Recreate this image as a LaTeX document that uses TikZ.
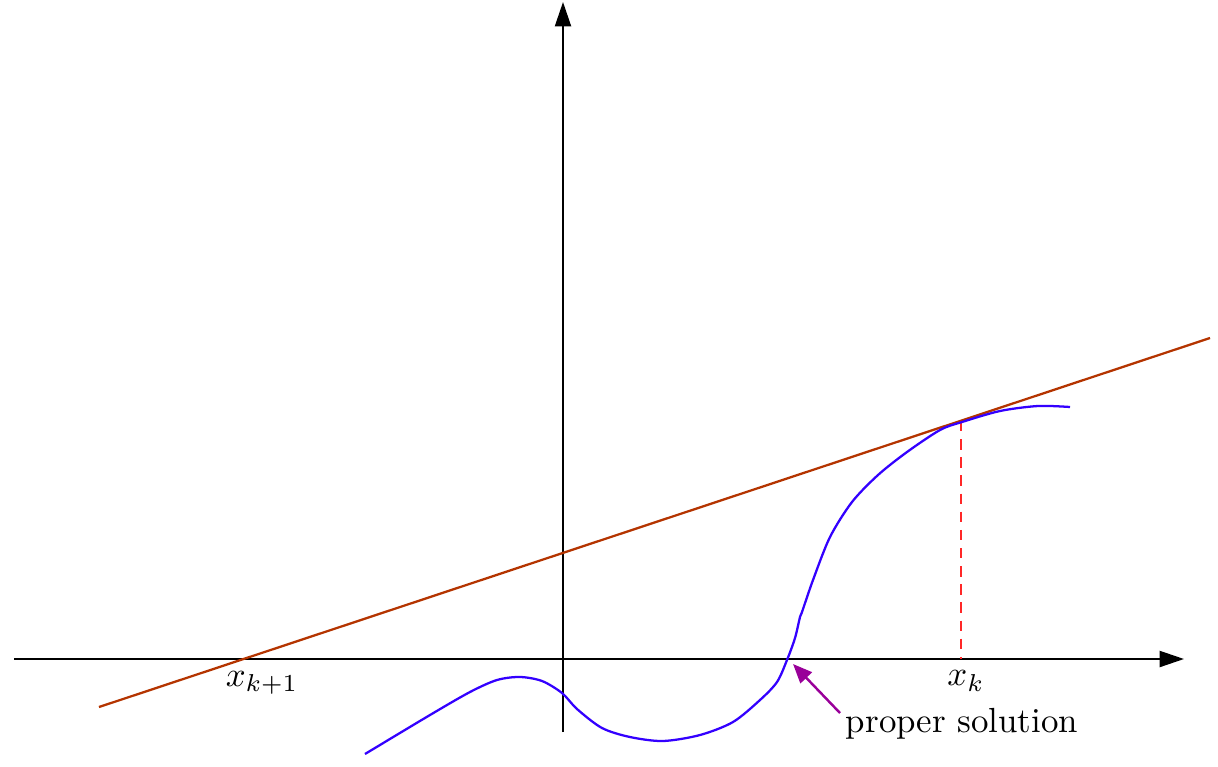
\documentclass[tikz,border=0pt]{standalone}
\usetikzlibrary{arrows.meta}
\definecolor{tangentc}{RGB}{180,52,0}
\definecolor{curvec}{RGB}{51,0,255}
\definecolor{dashc}{RGB}{255,40,40}
\definecolor{pointc}{RGB}{153,0,153}
\begin{document}
\begin{tikzpicture}[x=0.2866pt,y=-0.2866pt,
  axis/.style={line width=0.6pt,-{Triangle[length=7pt,width=4.6pt]}},
  tangent/.style={tangentc,line width=0.65pt},
  fcurve/.style={curvec,line width=0.65pt},
  guide/.style={dashc,line width=0.7pt,dash pattern=on 3pt off 2.2pt},
  pointer/.style={pointc,line width=0.7pt,-{Triangle[length=5.5pt,width=4.5pt]}},
  lbl/.style={inner sep=0pt}]
\useasboundingbox (0,0) rectangle (1218,766);
% axes
\coordinate (xa) at (14,659);
\coordinate (xb) at (1184,659);
\coordinate (ya) at (563,732);
\coordinate (yb) at (563,2);
\draw[axis] (xa) -- (xb);
\draw[axis] (ya) -- (yb);
% tangent line
\coordinate (ta) at (99,707);
\coordinate (tb) at (1210,338);
\draw[tangent] (ta) -- (tb);
% dashed guide
\coordinate (ga) at (961,421);
\coordinate (gb) at (961,659);
\draw[guide] (ga) -- (gb);
% curve
\draw[fcurve] plot[smooth,tension=0.5] coordinates {
 (365,754) (430,715) (470,692) (497,680) (520,677) (542,681) (562,693)
 (577,709) (602,728) (630,737) (663,741) (700,735) (733,722) (760,700)
 (777,682) (787,660) (795,638) (800,617) (802,612) (813,580) (830,537)
 (852,502) (878,475) (907,452) (940,430) (962,422) (1000,411) (1038,406) (1070,407)};
% labels
\node[lbl] (xk1) at (262,683) {$x_{k+1}$};
\node[lbl] (xk) at (966,681) {$x_k$};
\node[lbl] (ps) at (962,724) {proper solution};
\coordinate (root) at (793,664);
\coordinate (ptail) at (840,713);
\draw[pointer] (ptail) -- (root);
\end{tikzpicture}
\end{document}
